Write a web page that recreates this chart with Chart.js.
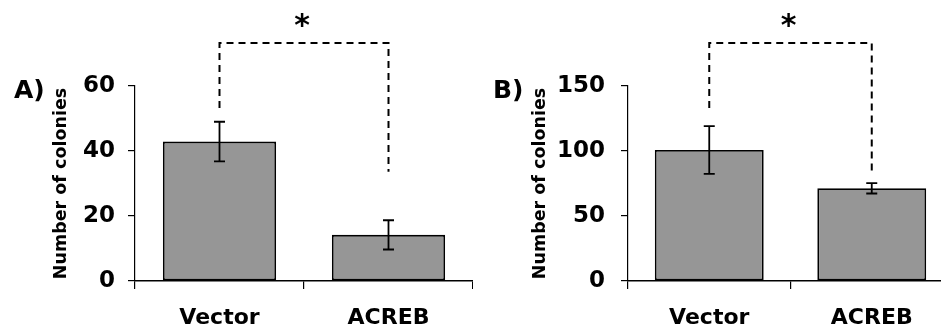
<!DOCTYPE html>
<html>
<head>
<meta charset="utf-8">
<script src="https://cdn.jsdelivr.net/npm/chart.js@4/dist/chart.umd.min.js"></script>
<style>
  html, body { margin: 0; padding: 0; background: #fff; overflow: hidden; }
  body { width: 941px; height: 330px; position: relative; }
  .panel { position: absolute; top: 0; height: 330px; }
  #panelA { left: 0; width: 473px; }
  #panelB { left: 470px; width: 483px; }
</style>
</head>
<body>
<div class="panel" id="panelA"><canvas id="chartA"></canvas></div>
<div class="panel" id="panelB"><canvas id="chartB"></canvas></div>
<script>
const categories = ['Vector', 'ACREB'];

// panel A
const valuesA = [42.9, 14.2];
const errorsA = [6.1, 4.5];
const ticksA = [0, 20, 40, 60];
const bracketA = [73.2, 53.2, 33.6]; // top, left end, right end (axis units)

// panel B
const valuesB = [100.8, 71.3];
const errorsB = [18.4, 4.0];
const ticksB = [0, 50, 100, 150];
const bracketB = [183, 133, 84];

const FONT = "'DejaVu Sans', sans-serif";

// error bars, significance bracket and panel letter
const extrasPlugin = {
  id: 'extras',
  afterDatasetsDraw(chart, args, opts) {
    const ctx = chart.ctx;
    const y = chart.scales.y;
    const meta = chart.getDatasetMeta(0);
    ctx.save();
    ctx.strokeStyle = '#000';
    ctx.lineWidth = 1.8;
    opts.errors.forEach((e, i) => {
      const x = meta.data[i].x;
      const v = opts.values[i];
      const yt = y.getPixelForValue(v + e);
      const yb = y.getPixelForValue(v - e);
      ctx.beginPath();
      ctx.moveTo(x, yt); ctx.lineTo(x, yb);
      ctx.moveTo(x - 5.5, yt); ctx.lineTo(x + 5.5, yt);
      ctx.moveTo(x - 5.5, yb); ctx.lineTo(x + 5.5, yb);
      ctx.stroke();
    });

    // bracket
    const x1 = meta.data[0].x, x2 = meta.data[1].x;
    const top = y.getPixelForValue(opts.bracket[0]);
    ctx.setLineDash([7, 5]);
    ctx.lineWidth = 2;
    ctx.beginPath();
    ctx.moveTo(x1, y.getPixelForValue(opts.bracket[1]));
    ctx.lineTo(x1, top);
    ctx.lineTo(x2, top);
    ctx.lineTo(x2, y.getPixelForValue(opts.bracket[2]));
    ctx.stroke();
    ctx.setLineDash([]);

    ctx.fillStyle = '#000';
    ctx.font = 'bold 30px ' + FONT;
    ctx.textAlign = 'center';
    ctx.textBaseline = 'middle';
    ctx.fillText('*', (x1 + x2) / 2 - 2, top - 16);

    ctx.font = 'bold 25px ' + FONT;
    ctx.textAlign = 'left';
    ctx.textBaseline = 'alphabetic';
    ctx.fillText(opts.letter, opts.letterX, 98);
    ctx.restore();
  }
};

function makeChart(id, values, errors, ticks, bracket, letter, p) {
  return new Chart(document.getElementById(id), {
    type: 'bar',
    data: {
      labels: categories,
      datasets: [{
        data: values,
        backgroundColor: '#969696',
        borderColor: '#000',
        borderWidth: 1.8,
        borderSkipped: false,
        categoryPercentage: 1,
        barPercentage: 0.67
      }]
    },
    options: {
      responsive: true,
      maintainAspectRatio: false,
      animation: false,
      events: [],
      layout: { padding: { top: 86, left: 0, right: 0, bottom: 0 } },
      plugins: {
        legend: { display: false },
        tooltip: { enabled: false },
        extras: { values: values, errors: errors, bracket: bracket, letter: letter, letterX: p.letterX }
      },
      scales: {
        x: {
          border: { display: true, color: '#000', width: 1.6 },
          grid: { display: true, drawOnChartArea: false, drawTicks: true, tickLength: 8, color: '#000', lineWidth: 1.2 },
          ticks: { color: '#000', padding: 16, font: { family: FONT, weight: 'bold', size: 22 } },
          afterFit(s) { s.height = 49; }
        },
        y: {
          min: ticks[0],
          max: ticks[ticks.length - 1],
          afterBuildTicks(s) { s.ticks = ticks.map(v => ({ value: v })); },
          border: { display: true, color: '#000', width: 1.2 },
          grid: { display: true, drawOnChartArea: false, drawTicks: true, tickLength: 7, color: '#000', lineWidth: 1.2 },
          ticks: { color: '#000', padding: p.tickPad, font: { family: FONT, weight: 'bold', size: 23 } },
          title: {
            display: true,
            text: 'Number of colonies',
            color: '#000',
            font: { family: FONT, weight: 'bold', size: 17.5 },
            padding: { top: p.titlePad, bottom: 0 }
          },
          afterFit(s) { s.width = p.axisW; }
        }
      }
    },
    plugins: [extrasPlugin]
  });
}

makeChart('chartA', valuesA, errorsA, ticksA, bracketA, 'A)', { axisW: 135, tickPad: 13, titlePad: 51, letterX: 14 });
makeChart('chartB', valuesB, errorsB, ticksB, bracketB, 'B)', { axisW: 158, tickPad: 16, titlePad: 60, letterX: 23 });
</script>
</body>
</html>
